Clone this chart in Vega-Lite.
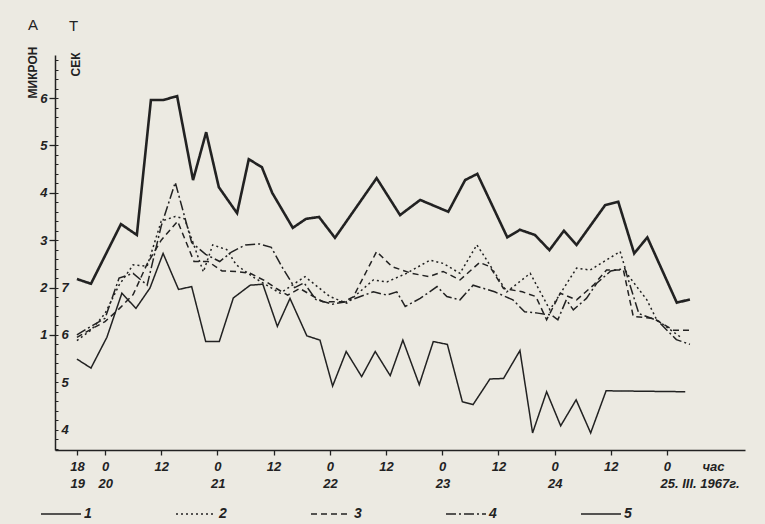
{
  "$schema": "https://vega.github.io/schema/vega-lite/v6.json",
  "width": 690,
  "height": 395,
  "autosize": {"type": "none"},
  "padding": {"left": 55, "top": 55, "right": 20, "bottom": 74},
  "background": "#eceae2",
  "config": {
    "view": {"stroke": null},
    "font": "Liberation Sans",
    "axis": {"domainColor": "#222", "tickColor": "#222", "labelColor": "#222", "titleColor": "#222", "grid": false, "labelOverlap": false, "labelFlush": false}
  },
  "title": {"text": "A", "anchor": "start", "frame": "group", "orient": "top", "offset": 0, "baseline": "bottom", "dx": -27, "dy": 30, "fontSize": 15, "fontWeight": "normal", "color": "#222"},
  "datasets": {
    "amp": [
      {"series": "1", "h": -6, "A": 2.18}, {"series": "1", "h": -3, "A": 2.08}, {"series": "1", "h": 3.4, "A": 3.34}, {"series": "1", "h": 6.8, "A": 3.11},
      {"series": "1", "h": 9.8, "A": 5.96}, {"series": "1", "h": 12.4, "A": 5.96}, {"series": "1", "h": 15.4, "A": 6.04}, {"series": "1", "h": 18.8, "A": 4.27},
      {"series": "1", "h": 21.6, "A": 5.28}, {"series": "1", "h": 24.3, "A": 4.12}, {"series": "1", "h": 28.2, "A": 3.57}, {"series": "1", "h": 30.7, "A": 4.71},
      {"series": "1", "h": 33.5, "A": 4.54}, {"series": "1", "h": 35.7, "A": 4.0}, {"series": "1", "h": 40.1, "A": 3.26}, {"series": "1", "h": 42.9, "A": 3.45},
      {"series": "1", "h": 45.7, "A": 3.49}, {"series": "1", "h": 49.1, "A": 3.05}, {"series": "1", "h": 58, "A": 4.31}, {"series": "1", "h": 63, "A": 3.53},
      {"series": "1", "h": 67.3, "A": 3.85}, {"series": "1", "h": 73.3, "A": 3.6}, {"series": "1", "h": 76.9, "A": 4.27}, {"series": "1", "h": 79.5, "A": 4.4},
      {"series": "1", "h": 85.9, "A": 3.06}, {"series": "1", "h": 88.6, "A": 3.22}, {"series": "1", "h": 91.8, "A": 3.11}, {"series": "1", "h": 94.9, "A": 2.79},
      {"series": "1", "h": 98, "A": 3.2}, {"series": "1", "h": 100.7, "A": 2.9}, {"series": "1", "h": 106.8, "A": 3.74}, {"series": "1", "h": 109.6, "A": 3.81},
      {"series": "1", "h": 113, "A": 2.72}, {"series": "1", "h": 115.8, "A": 3.06}, {"series": "1", "h": 122.1, "A": 1.68}, {"series": "1", "h": 124.9, "A": 1.75},

      {"series": "2", "h": -6, "A": 0.88}, {"series": "2", "h": -3, "A": 1.1}, {"series": "2", "h": 0, "A": 1.45}, {"series": "2", "h": 3, "A": 2.05},
      {"series": "2", "h": 6, "A": 2.48}, {"series": "2", "h": 9, "A": 2.45}, {"series": "2", "h": 12, "A": 3.4}, {"series": "2", "h": 15, "A": 3.5},
      {"series": "2", "h": 17, "A": 3.45}, {"series": "2", "h": 21, "A": 2.33}, {"series": "2", "h": 23, "A": 2.9}, {"series": "2", "h": 26, "A": 2.8},
      {"series": "2", "h": 28, "A": 2.48}, {"series": "2", "h": 32, "A": 2.2}, {"series": "2", "h": 37.4, "A": 1.88}, {"series": "2", "h": 42.7, "A": 2.23},
      {"series": "2", "h": 48, "A": 1.81}, {"series": "2", "h": 51.6, "A": 1.67}, {"series": "2", "h": 57.3, "A": 2.16}, {"series": "2", "h": 60.2, "A": 2.12},
      {"series": "2", "h": 64.4, "A": 2.3}, {"series": "2", "h": 69.4, "A": 2.58}, {"series": "2", "h": 72.2, "A": 2.51}, {"series": "2", "h": 75.8, "A": 2.3},
      {"series": "2", "h": 79.4, "A": 2.9}, {"series": "2", "h": 80.8, "A": 2.69}, {"series": "2", "h": 85.8, "A": 1.91}, {"series": "2", "h": 90.8, "A": 2.3},
      {"series": "2", "h": 95, "A": 1.53}, {"series": "2", "h": 100.7, "A": 2.41}, {"series": "2", "h": 103.6, "A": 2.37}, {"series": "2", "h": 110, "A": 2.76},
      {"series": "2", "h": 111.4, "A": 2.3}, {"series": "2", "h": 115.7, "A": 1.74}, {"series": "2", "h": 117.8, "A": 1.32}, {"series": "2", "h": 122.8, "A": 0.96},

      {"series": "3", "h": -6, "A": 0.95}, {"series": "3", "h": -3, "A": 1.12}, {"series": "3", "h": 0, "A": 1.28}, {"series": "3", "h": 3, "A": 1.55},
      {"series": "3", "h": 6, "A": 1.85}, {"series": "3", "h": 9, "A": 2.5}, {"series": "3", "h": 12, "A": 3.0}, {"series": "3", "h": 15.5, "A": 3.4},
      {"series": "3", "h": 19, "A": 2.55}, {"series": "3", "h": 22, "A": 2.55}, {"series": "3", "h": 25, "A": 2.35}, {"series": "3", "h": 28, "A": 2.34},
      {"series": "3", "h": 31, "A": 2.3}, {"series": "3", "h": 34, "A": 2.15}, {"series": "3", "h": 36.6, "A": 1.98}, {"series": "3", "h": 39, "A": 1.84},
      {"series": "3", "h": 41.6, "A": 1.98}, {"series": "3", "h": 46.5, "A": 1.7}, {"series": "3", "h": 51, "A": 1.7}, {"series": "3", "h": 53, "A": 1.8},
      {"series": "3", "h": 58, "A": 2.76}, {"series": "3", "h": 61.3, "A": 2.44}, {"series": "3", "h": 65.5, "A": 2.3}, {"series": "3", "h": 69.2, "A": 2.23},
      {"series": "3", "h": 72.2, "A": 2.34}, {"series": "3", "h": 75.8, "A": 2.16}, {"series": "3", "h": 80, "A": 2.53}, {"series": "3", "h": 82.2, "A": 2.44},
      {"series": "3", "h": 85.1, "A": 1.98}, {"series": "3", "h": 89.1, "A": 1.91}, {"series": "3", "h": 92, "A": 1.81}, {"series": "3", "h": 94.3, "A": 1.32},
      {"series": "3", "h": 97.2, "A": 1.88}, {"series": "3", "h": 100.7, "A": 1.74}, {"series": "3", "h": 104.3, "A": 2.05}, {"series": "3", "h": 107.1, "A": 2.37},
      {"series": "3", "h": 110.7, "A": 2.37}, {"series": "3", "h": 112.8, "A": 1.39}, {"series": "3", "h": 117.1, "A": 1.35}, {"series": "3", "h": 121.4, "A": 1.1},
      {"series": "3", "h": 124.9, "A": 1.1},

      {"series": "4", "h": -6, "A": 1.0}, {"series": "4", "h": -3, "A": 1.18}, {"series": "4", "h": 0, "A": 1.35}, {"series": "4", "h": 3, "A": 2.2},
      {"series": "4", "h": 6, "A": 2.3}, {"series": "4", "h": 9, "A": 2.05}, {"series": "4", "h": 12, "A": 3.3}, {"series": "4", "h": 15, "A": 4.22},
      {"series": "4", "h": 18.5, "A": 2.95}, {"series": "4", "h": 21.5, "A": 2.7}, {"series": "4", "h": 24.5, "A": 2.55}, {"series": "4", "h": 27, "A": 2.75},
      {"series": "4", "h": 30, "A": 2.9}, {"series": "4", "h": 33, "A": 2.92}, {"series": "4", "h": 35.5, "A": 2.85}, {"series": "4", "h": 38, "A": 2.4},
      {"series": "4", "h": 40.5, "A": 2.0}, {"series": "4", "h": 42.5, "A": 2.1}, {"series": "4", "h": 45, "A": 1.75}, {"series": "4", "h": 48.6, "A": 1.65},
      {"series": "4", "h": 51.5, "A": 1.7}, {"series": "4", "h": 57.3, "A": 1.91}, {"series": "4", "h": 60.2, "A": 1.84}, {"series": "4", "h": 62.3, "A": 1.91},
      {"series": "4", "h": 64.1, "A": 1.6}, {"series": "4", "h": 67.3, "A": 1.77}, {"series": "4", "h": 70.9, "A": 2.02}, {"series": "4", "h": 73, "A": 1.81},
      {"series": "4", "h": 75.8, "A": 1.74}, {"series": "4", "h": 78.6, "A": 2.05}, {"series": "4", "h": 83.2, "A": 1.91}, {"series": "4", "h": 87.1, "A": 1.74},
      {"series": "4", "h": 89.6, "A": 1.49}, {"series": "4", "h": 92.4, "A": 1.46}, {"series": "4", "h": 95.3, "A": 1.42}, {"series": "4", "h": 96.7, "A": 1.32},
      {"series": "4", "h": 98.5, "A": 1.74}, {"series": "4", "h": 100, "A": 1.53}, {"series": "4", "h": 102.8, "A": 1.77}, {"series": "4", "h": 105, "A": 2.09},
      {"series": "4", "h": 108, "A": 2.35}, {"series": "4", "h": 111, "A": 2.4}, {"series": "4", "h": 114, "A": 1.45}, {"series": "4", "h": 118, "A": 1.3},
      {"series": "4", "h": 122, "A": 0.9}, {"series": "4", "h": 124.9, "A": 0.8}
    ],
    "per": [
      {"series": "5", "h": -6, "T": 5.49}, {"series": "5", "h": -3, "T": 5.3}, {"series": "5", "h": 0.4, "T": 5.95}, {"series": "5", "h": 3.6, "T": 6.88},
      {"series": "5", "h": 6.6, "T": 6.56}, {"series": "5", "h": 9.6, "T": 6.99}, {"series": "5", "h": 12.4, "T": 7.72}, {"series": "5", "h": 15.7, "T": 6.96},
      {"series": "5", "h": 18.5, "T": 7.02}, {"series": "5", "h": 21.5, "T": 5.86}, {"series": "5", "h": 24.4, "T": 5.86}, {"series": "5", "h": 27.4, "T": 6.78},
      {"series": "5", "h": 31, "T": 7.05}, {"series": "5", "h": 33.7, "T": 7.07}, {"series": "5", "h": 36.8, "T": 6.18}, {"series": "5", "h": 39.5, "T": 6.77},
      {"series": "5", "h": 43.1, "T": 5.98}, {"series": "5", "h": 45.9, "T": 5.89}, {"series": "5", "h": 48.6, "T": 4.92}, {"series": "5", "h": 51.5, "T": 5.65},
      {"series": "5", "h": 54.8, "T": 5.12}, {"series": "5", "h": 57.7, "T": 5.65}, {"series": "5", "h": 60.9, "T": 5.14}, {"series": "5", "h": 63.6, "T": 5.89},
      {"series": "5", "h": 67.1, "T": 4.95}, {"series": "5", "h": 70.1, "T": 5.86}, {"series": "5", "h": 73.1, "T": 5.8}, {"series": "5", "h": 76.3, "T": 4.59},
      {"series": "5", "h": 78.6, "T": 4.53}, {"series": "5", "h": 82.2, "T": 5.07}, {"series": "5", "h": 85.1, "T": 5.08}, {"series": "5", "h": 88.6, "T": 5.67},
      {"series": "5", "h": 91.3, "T": 3.93}, {"series": "5", "h": 94.3, "T": 4.8}, {"series": "5", "h": 97.3, "T": 4.08}, {"series": "5", "h": 100.6, "T": 4.63},
      {"series": "5", "h": 103.7, "T": 3.93}, {"series": "5", "h": 107, "T": 4.82}, {"series": "5", "h": 123.9, "T": 4.8}
    ]
  },
  "layer": [
    {
      "data": {"name": "amp"},
      "mark": {"type": "line", "color": "#222"},
      "encoding": {
        "x": {
          "field": "h", "type": "quantitative",
          "scale": {"domain": [-10.68, 136.66], "nice": false, "zero": false},
          "axis": {
            "values": [-6, 0, 12, 24, 36, 48, 60, 72, 84, 96, 108, 120],
            "labelExpr": "datum.value == -6 ? '18' : (datum.value % 24 == 0 ? '0' : '12')",
            "labelFontSize": 13, "labelFontStyle": "italic", "labelFontWeight": "bold",
            "tickSize": 5, "labelPadding": 5, "domainWidth": 1.5, "tickWidth": 1.3,
            "title": "час", "titleX": 658, "titleY": 10, "titleAngle": 0, "titleAlign": "center", "titleBaseline": "top",
            "titleFontSize": 13, "titleFontStyle": "italic", "titleFontWeight": "bold"
          }
        },
        "y": {
          "field": "A", "type": "quantitative",
          "scale": {"domain": [-1.43, 6.91], "nice": false, "zero": false},
          "axis": {
            "values": [1, 2, 3, 4, 5, 6], "format": "d",
            "labelFontSize": 13, "labelFontStyle": "italic", "labelFontWeight": "bold",
            "tickSize": 6, "labelPadding": 2, "domainWidth": 1.5, "tickWidth": 1.3,
            "title": "МИКРОН", "titleX": -23, "titleY": 17, "titleAngle": 270, "titleAlign": "center", "titleBaseline": "middle",
            "titleFontSize": 12, "titleFontWeight": "bold"
          }
        },
        "strokeDash": {
          "field": "series", "type": "nominal",
          "scale": {"domain": ["1", "2", "3", "4", "5"], "range": [[1, 0], [2, 3], [6, 4], [10, 3, 2, 3], [1, 0]]},
          "legend": {
            "orient": "none", "legendX": -15, "legendY": 438, "direction": "horizontal", "title": null,
            "symbolType": "stroke", "symbolSize": 1600, "symbolStrokeWidth": 1.6, "symbolStrokeColor": "#222",
            "columnPadding": 80, "labelOffset": 2,
            "labelFontSize": 14, "labelFontStyle": "italic", "labelFontWeight": "bold", "labelColor": "#222"
          }
        },
        "strokeWidth": {"condition": {"test": "datum.series == '1'", "value": 2.6}, "value": 1.5}
      }
    },
    {
      "data": {"name": "per"},
      "mark": {"type": "line", "color": "#222", "strokeWidth": 1.5},
      "encoding": {
        "x": {
          "field": "h", "type": "quantitative",
          "scale": {"domain": [-10.68, 136.66], "nice": false, "zero": false},
          "axis": {
            "orient": "bottom", "offset": 24, "domain": false, "ticks": false,
            "values": [-6, 0, 24, 48, 72, 96, 120],
            "labelExpr": "datum.value == -6 ? '19' : (datum.value == 120 ? '25. III. 1967г.' : format(20 + datum.value / 24, 'd'))",
            "labelAlign": "left", "labelOffset": -7, "labelPadding": 3,
            "labelFontSize": 13, "labelFontStyle": "italic", "labelFontWeight": "bold",
            "title": "T", "titleX": 18, "titleY": -456, "titleAngle": 0, "titleAlign": "center", "titleBaseline": "top",
            "titleFontSize": 15, "titleFontWeight": "normal"
          }
        },
        "y": {
          "field": "T", "type": "quantitative",
          "scale": {"domain": [3.57, 11.91], "nice": false, "zero": false},
          "axis": {
            "orient": "right", "offset": -690, "domain": false,
            "values": [3.6, 3.8, 4, 4.2, 4.4, 4.6, 4.8, 5, 5.2, 5.4, 5.6, 5.8, 6, 6.2, 6.4, 6.6, 6.8, 7, 7.2, 7.4, 7.6, 7.8, 8, 8.2, 8.4, 8.6, 8.8, 9, 9.2, 9.4, 9.6, 9.8, 10, 10.2, 10.4, 10.6, 10.8, 11, 11.2, 11.4, 11.6, 11.8],
            "labelExpr": "(datum.value == 4 || datum.value == 5 || datum.value == 6 || datum.value == 7) ? format(datum.value, 'd') : ''",
            "tickSize": 3, "labelPadding": 3,
            "labelFontSize": 13, "labelFontStyle": "italic", "labelFontWeight": "bold",
            "title": "СЕК", "titleX": 20, "titleY": 9, "titleAngle": 270, "titleAlign": "center", "titleBaseline": "middle",
            "titleFontSize": 12, "titleFontWeight": "bold"
          }
        },
        "strokeDash": {
          "field": "series", "type": "nominal",
          "scale": {"domain": ["1", "2", "3", "4", "5"], "range": [[1, 0], [2, 3], [6, 4], [10, 3, 2, 3], [1, 0]]}
        }
      }
    }
  ],
  "resolve": {"scale": {"y": "independent"}, "axis": {"x": "independent", "y": "independent"}}
}
